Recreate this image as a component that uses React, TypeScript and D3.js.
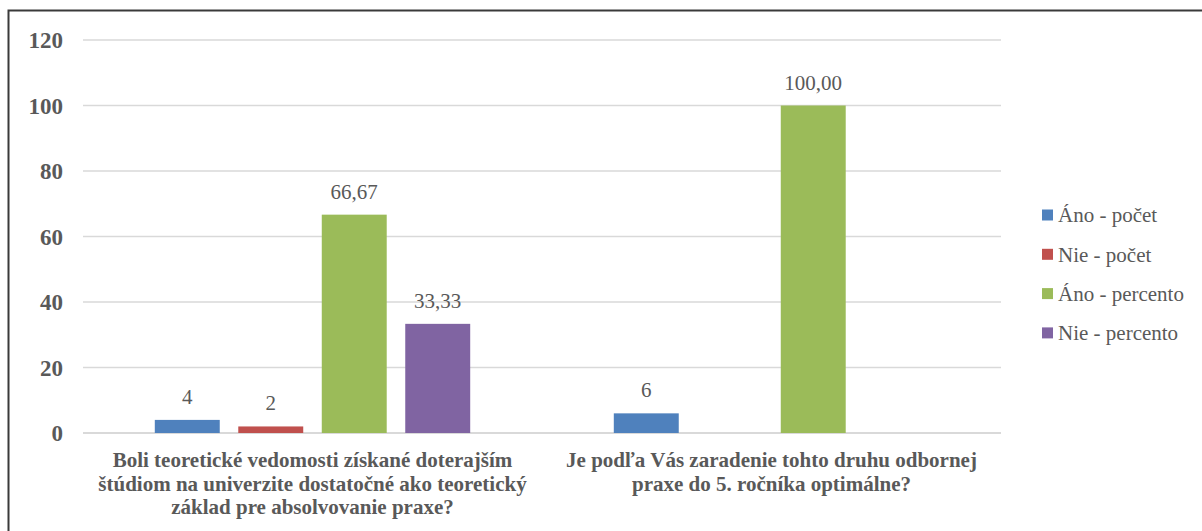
import * as d3 from 'd3';

const categories = [
  'Boli teoretické vedomosti získané doterajším štúdiom na univerzite dostatočné ako teoretický základ pre absolvovanie praxe?',
  'Je podľa Vás zaradenie tohto druhu odbornej praxe do 5. ročníka optimálne?',
];
const categoryLines = [
  ['Boli teoretické vedomosti získané doterajším', 'štúdiom na univerzite dostatočné ako teoretický', 'základ pre absolvovanie praxe?'],
  ['Je podľa Vás zaradenie tohto druhu odbornej', 'praxe do 5. ročníka optimálne?'],
];
const seriesNames = ['Áno - počet', 'Nie - počet', 'Áno - percento', 'Nie - percento'];
const seriesColors = ['#4f81bd', '#c0504d', '#9bbb59', '#8064a2'];
const anoPocet: (number | null)[] = [4, 6];
const niePocet: (number | null)[] = [2, null];
const anoPercento: (number | null)[] = [66.67, 100];
const niePercento: (number | null)[] = [33.33, null];
const yTicks = [0, 20, 40, 60, 80, 100, 120];

const W = 1202;
const H = 531;
const textColor = '#595959';
const font = 'Liberation Serif, Times New Roman, serif';

export default function App() {
  const series = [anoPocet, niePocet, anoPercento, niePercento];
  const x0 = d3.scaleBand<number>().domain(d3.range(categories.length)).range([83, 1001]);
  const x1 = d3
    .scaleBand<number>()
    .domain(d3.range(seriesNames.length))
    .range([0, x0.bandwidth()])
    .paddingInner(0.222)
    .paddingOuter(0.86);
  const y = d3.scaleLinear().domain([0, 120]).range([433, 40]);
  const fmt = (v: number, s: number) => (s >= 2 ? v.toFixed(2).replace('.', ',') : String(v));

  return (
    <div style={{ position: 'fixed', left: 0, top: 0, width: W, height: H, background: '#fff' }}>
      <svg width={W} height={H} viewBox={`0 0 ${W} ${H}`} style={{ display: 'block' }}>
        <rect x={0} y={0} width={W} height={H} fill="#fff" />
        {/* chart border, cut off at right and bottom */}
        <path d={`M8.5,${H + 2} V10.5 H${W + 2}`} fill="none" stroke="#3a3a3a" strokeWidth={2} />
        {yTicks.map((t) => (
          <g key={t}>
            <line x1={83} x2={1001} y1={y(t)} y2={y(t)} stroke="#d9d9d9" strokeWidth={t === 0 ? 2 : 1.5} />
            <text
              x={63}
              y={y(t)}
              dy="0.35em"
              textAnchor="end"
              fontFamily={font}
              fontSize={23}
              fontWeight="bold"
              fill={textColor}
            >
              {t}
            </text>
          </g>
        ))}
        {series.map((vals, s) =>
          vals.map((v, c) => {
            if (v === null) return null;
            const bx = (x0(c) ?? 0) + (x1(s) ?? 0);
            return (
              <g key={`${s}-${c}`}>
                <rect x={bx} y={y(v)} width={x1.bandwidth()} height={y(0) - y(v)} fill={seriesColors[s]} />
                <text
                  x={bx + x1.bandwidth() / 2}
                  y={y(v) - 16}
                  textAnchor="middle"
                  fontFamily={font}
                  fontSize={21}
                  fill={textColor}
                >
                  {fmt(v, s)}
                </text>
              </g>
            );
          })
        )}
        {categoryLines.map((lines, c) => (
          <text
            key={c}
            x={(x0(c) ?? 0) + x0.bandwidth() / 2}
            y={467}
            textAnchor="middle"
            fontFamily={font}
            fontSize={21}
            fontWeight="bold"
            fill={textColor}
          >
            <title>{categories[c]}</title>
            {lines.map((l, i) => (
              <tspan key={i} x={(x0(c) ?? 0) + x0.bandwidth() / 2} dy={i === 0 ? 0 : 23.5}>
                {l}
              </tspan>
            ))}
          </text>
        ))}
        {seriesNames.map((n, i) => (
          <g key={n} transform={`translate(1042, ${215 + i * 39.3})`}>
            <rect x={0} y={-5.5} width={11} height={11} fill={seriesColors[i]} />
            <text x={16} y={0} dy="0.35em" fontFamily={font} fontSize={21} fill={textColor}>
              {n}
            </text>
          </g>
        ))}
      </svg>
    </div>
  );
}
